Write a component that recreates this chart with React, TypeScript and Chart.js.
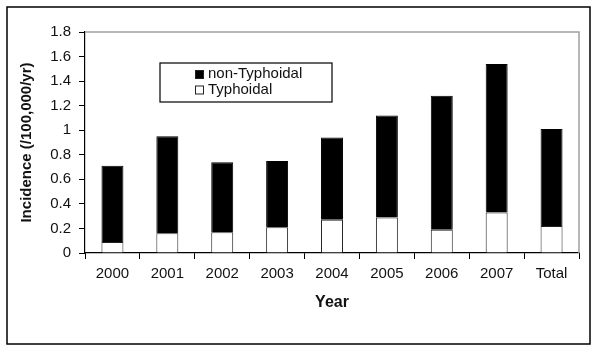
import React, { useEffect, useRef } from "react";
import { Chart, registerables } from "chart.js";

Chart.register(...registerables);

const categories = ["2000", "2001", "2002", "2003", "2004", "2005", "2006", "2007", "Total"];
const typhoidal = [0.09, 0.16, 0.17, 0.21, 0.27, 0.29, 0.19, 0.33, 0.22];
const nonTyphoidal = [0.62, 0.79, 0.57, 0.54, 0.67, 0.83, 1.09, 1.21, 0.79];
const yTickValues = [0, 0.2, 0.4, 0.6, 0.8, 1, 1.2, 1.4, 1.6, 1.8];

const FONT = "'Liberation Sans', Arial, sans-serif";

const framePlugin = {
  id: "framePlugin",
  afterDraw(chart: any) {
    const ctx = chart.ctx as CanvasRenderingContext2D;
    const area = chart.chartArea;
    ctx.save();
    // plot area frame (top & right, gray)
    ctx.strokeStyle = "#a0a0a0";
    ctx.lineWidth = 1.5;
    ctx.beginPath();
    ctx.moveTo(area.left, area.top);
    ctx.lineTo(area.right, area.top);
    ctx.lineTo(area.right, area.bottom);
    ctx.stroke();
    // outer border
    ctx.strokeStyle = "#000";
    ctx.lineWidth = 1.5;
    ctx.strokeRect(7, 7, 583, 337);
    // legend box
    ctx.fillStyle = "#fff";
    ctx.fillRect(160, 63, 172, 39);
    ctx.lineWidth = 1.2;
    ctx.strokeRect(160, 63, 172, 39);
    const ds = chart.data.datasets.slice().reverse();
    ctx.font = `15px ${FONT}`;
    ctx.textBaseline = "middle";
    ds.forEach((d: any, i: number) => {
      const cy = 74 + i * 15.5;
      ctx.fillStyle = d.backgroundColor;
      ctx.fillRect(195, cy - 4, 8, 8);
      ctx.strokeStyle = "#222";
      ctx.lineWidth = 1;
      ctx.strokeRect(195.5, cy - 3.5, 8, 8);
      ctx.fillStyle = "#111";
      ctx.fillText(d.label, 208, cy);
    });
    ctx.restore();
  },
};

export default function App() {
  const ref = useRef<HTMLCanvasElement | null>(null);
  useEffect(() => {
    document.body.style.margin = "0";
    const canvas = ref.current;
    if (!canvas) return;
    const chart = new Chart(canvas, {
      type: "bar",
      data: {
        labels: categories,
        datasets: [
          {
            label: "Typhoidal",
            data: typhoidal,
            backgroundColor: "#ffffff",
            borderColor: "#222",
            borderWidth: 1,
            barPercentage: 0.4,
            categoryPercentage: 1,
          },
          {
            label: "non-Typhoidal",
            data: nonTyphoidal,
            backgroundColor: "#000000",
            borderColor: "#000",
            borderWidth: 1,
            barPercentage: 0.4,
            categoryPercentage: 1,
          },
        ],
      },
      options: {
        animation: false,
        responsive: false,
        devicePixelRatio: 1,
        layout: { padding: { left: 0, right: 21, top: 32, bottom: 0 } },
        plugins: {
          legend: { display: false },
          tooltip: { enabled: false },
        },
        scales: {
          x: {
            stacked: true,
            grid: {
              display: true,
              drawOnChartArea: false,
              drawTicks: true,
              tickLength: 6,
              color: "#000",
              offset: true,
            },
            border: { display: true, color: "#000", width: 1.2 },
            ticks: { font: { family: FONT, size: 15 }, color: "#111", padding: 6 },
            title: {
              display: true,
              text: "Year",
              color: "#111",
              font: { family: FONT, size: 16, weight: "bold" },
              padding: { top: 0, bottom: 43 },
            },
            afterFit: (s: any) => {
              s.height = 102;
            },
          },
          y: {
            stacked: true,
            min: 0,
            max: 1.8,
            afterBuildTicks: (s: any) => {
              s.ticks = yTickValues.map((v) => ({ value: v }));
            },
            ticks: {
              font: { family: FONT, size: 15 },
              color: "#111",
              padding: 8,
              callback: (v: any) => String(+Number(v).toFixed(1)),
            },
            grid: {
              display: true,
              drawOnChartArea: false,
              drawTicks: true,
              tickLength: 6,
              color: "#000",
            },
            border: { display: true, color: "#000", width: 1.2 },
            title: {
              display: true,
              text: "Incidence (/100,000/yr)",
              color: "#111",
              font: { family: FONT, size: 15, weight: "bold" },
              padding: { top: 18, bottom: 0 },
            },
            afterFit: (s: any) => {
              s.width = 85;
            },
          },
        },
      },
      plugins: [framePlugin],
    });
    return () => chart.destroy();
  }, []);
  return (
    <div style={{ width: 600, height: 355, background: "#fff" }}>
      <canvas ref={ref} width={600} height={355} style={{ display: "block" }} />
    </div>
  );
}
